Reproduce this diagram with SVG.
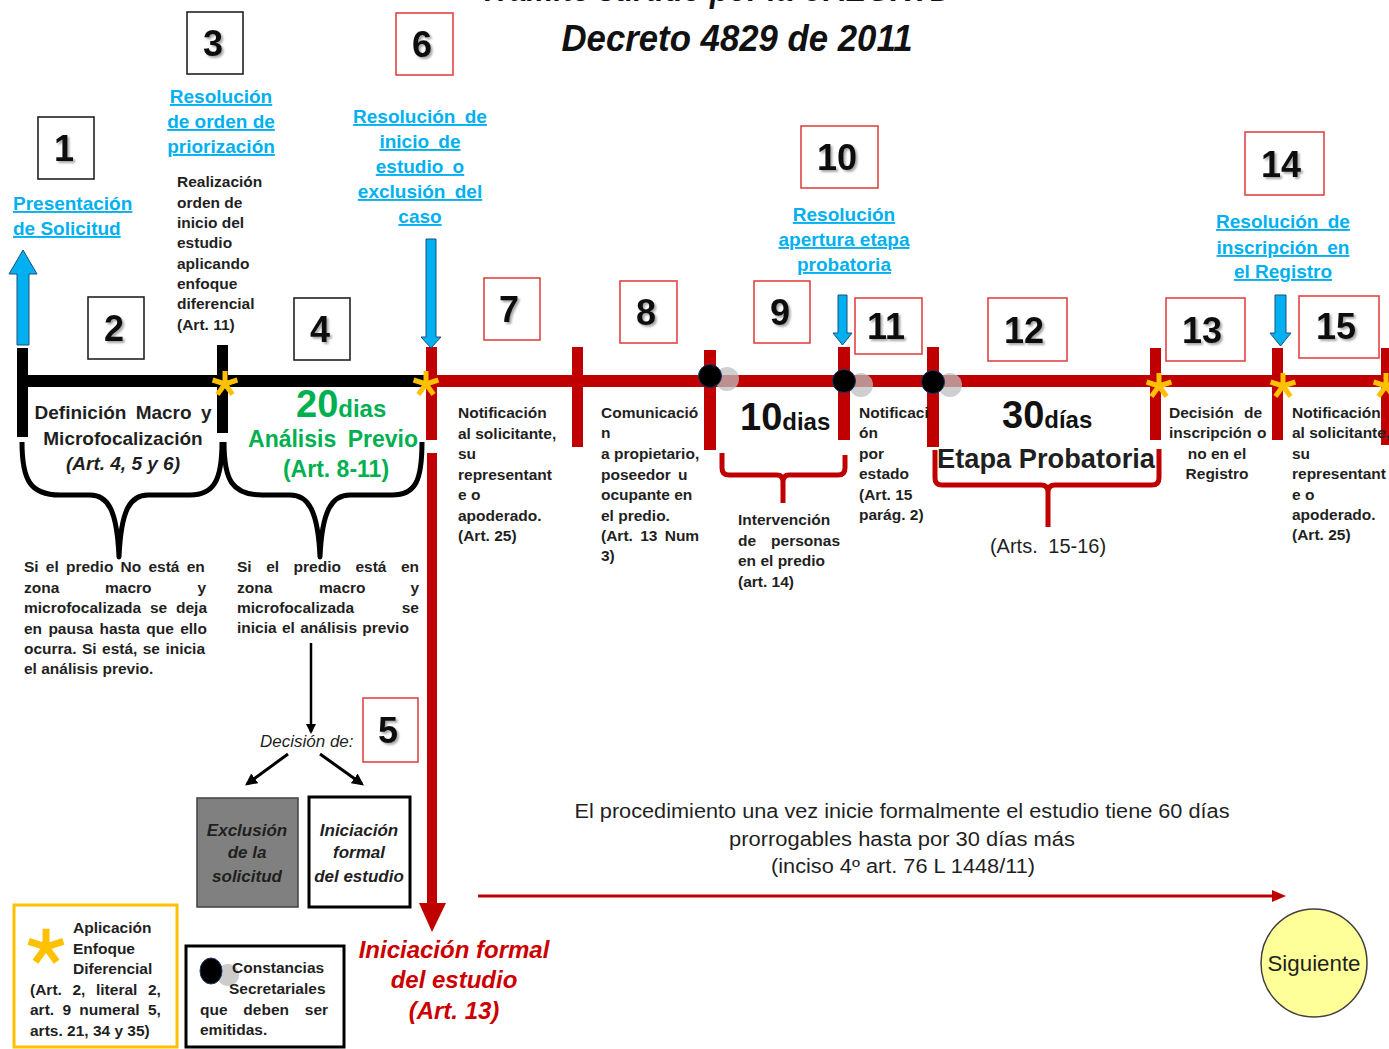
<svg xmlns="http://www.w3.org/2000/svg" xmlns:xlink="http://www.w3.org/1999/xlink" width="1389" height="1049" viewBox="0 0 1389 1049">
<defs>
<style>
text{font-family:"Liberation Sans",Arial,sans-serif;fill:#1f1f1f}
.num{font-size:36px;font-weight:bold;text-anchor:middle;filter:url(#sh);fill:#111}
.bk{fill:#fff;stroke:#222;stroke-width:1.6}
.br{fill:#fff;stroke:#E04545;stroke-width:1.6}
.link{font-size:19px;font-weight:bold;fill:#00B0F0;text-decoration:underline;text-anchor:middle}
.sm{font-size:15.5px;font-weight:bold}
.mid{text-anchor:middle}
.end{text-anchor:end}
.title{font-size:36px;font-weight:bold;font-style:italic;fill:#111}
.green{fill:#00B050;font-weight:bold}
.days{font-weight:bold;fill:#111}
.blue{fill:#00B0F0;stroke:#1F4E79;stroke-width:1}
.red{fill:#C00000}
.blk{fill:#000}
.brace{fill:none;stroke:#000;stroke-width:5;stroke-linejoin:round}
.rbrace{fill:none;stroke:#C00000;stroke-width:5;stroke-linejoin:round}
.bi{font-weight:bold;font-style:italic;font-size:17px;text-anchor:middle}
.leg{font-size:15.5px;font-weight:bold}
.note{font-size:19.5px}
.rt{font-size:24px;font-weight:bold;font-style:italic;text-anchor:middle;fill:#CC0000}
</style>
<filter id="sh" x="-20%" y="-20%" width="150%" height="150%"><feDropShadow dx="2" dy="2" stdDeviation="1.2" flood-color="#000" flood-opacity="0.35"/></filter>
<g id="ast"><path d="M0,0 L0,-13 M0,0 L12.4,-4 M0,0 L7.6,10.5 M0,0 L-7.6,10.5 M0,0 L-12.4,-4" stroke="#FFC000" stroke-width="5" fill="none"/></g>
<marker id="ak" viewBox="0 0 10 10" refX="8" refY="5" markerWidth="4" markerHeight="4" orient="auto"><path d="M0,0 L10,5 L0,10 z" fill="#000"/></marker>
</defs>
<rect width="1389" height="1049" fill="#fff"/>

<g id="title">
<text class="title mid" x="716" y="1" textLength="473" lengthAdjust="spacingAndGlyphs">Trámite surtido por la UAEGRTD</text>
<text class="title mid" x="737" y="51" textLength="351" lengthAdjust="spacingAndGlyphs">Decreto 4829 de 2011</text>
</g>

<g id="timeline">
<rect x="17" y="375" width="413" height="12" class="blk"/>
<rect x="17" y="348" width="11" height="89" class="blk"/>
<rect x="217" y="345" width="11" height="88" class="blk"/>
<rect x="430" y="375" width="959" height="12" class="red"/>
<rect x="426" y="347" width="11" height="93" class="red"/>
<rect x="572" y="347" width="11" height="100" class="red"/>
<rect x="704" y="350" width="12" height="100" class="red"/>
<rect x="838" y="347" width="12" height="93" class="red"/>
<rect x="927" y="347" width="12" height="100" class="red"/>
<rect x="1150" y="348" width="11" height="92" class="red"/>
<rect x="1272" y="348" width="11" height="92" class="red"/>
<rect x="1381" y="348" width="11" height="97" class="red"/>
<circle cx="727" cy="379" r="12" fill="#bfbfbf" opacity="0.75"/>
<circle cx="861" cy="385" r="12" fill="#bfbfbf" opacity="0.75"/>
<circle cx="950" cy="385" r="12" fill="#bfbfbf" opacity="0.75"/>
<circle cx="710" cy="376" r="11.5" fill="#000" stroke="#1F3864" stroke-width="1"/>
<circle cx="844" cy="381" r="11.5" fill="#000" stroke="#1F3864" stroke-width="1"/>
<circle cx="933" cy="382" r="11.5" fill="#000" stroke="#1F3864" stroke-width="1"/>
<use xlink:href="#ast" href="#ast" x="225" y="384"/>
<use xlink:href="#ast" href="#ast" x="426" y="384"/>
<use xlink:href="#ast" href="#ast" x="1159" y="386"/>
<use xlink:href="#ast" href="#ast" x="1283" y="386"/>
<use xlink:href="#ast" href="#ast" x="1386" y="386"/>
</g>

<g id="connectors">
<polygon class="blue" points="17,345 29,345 29,274 37,274 23,250 9,274 17,274"/>
<polygon class="blue" points="426,239 436,239 436,337 441,337 431,348 421,337 426,337"/>
<polygon class="blue" points="838,295 847,295 847,333 852,333 842.5,345 833,333 838,333"/>
<polygon class="blue" points="1275,295 1286,295 1286,333 1291,333 1280.5,346 1270,333 1275,333"/>
<rect x="427" y="453" width="10" height="452" class="red"/>
<polygon class="red" points="419,903 446,903 432,932"/>
<line x1="311" y1="643" x2="311" y2="732" stroke="#000" stroke-width="2.5" marker-end="url(#ak)"/>
<line x1="288" y1="754" x2="247" y2="784" stroke="#000" stroke-width="3" marker-end="url(#ak)"/>
<line x1="320" y1="754" x2="362" y2="784" stroke="#000" stroke-width="3" marker-end="url(#ak)"/>
<line x1="478" y1="896" x2="1274" y2="896" stroke="#C00000" stroke-width="3"/>
<polygon class="red" points="1272,890 1286,896 1272,902"/>
<path class="brace" d="M22,442 C22,480 30,495 60,495 L90,495 C108,495 117,510 119,557 C121,510 130,495 148,495 L190,495 C214,495 222,480 222,442"/>
<path class="brace" d="M224,442 C224,480 232,495 262,495 L290,495 C308,495 318,510 320,557 C322,510 332,495 350,495 L392,495 C416,495 422,480 422,442"/>
<path class="rbrace" d="M722,453 L722,468 Q722,475 729,475 L777,475 Q783,475 783,482 L783,503 M783,482 Q783,475 789,475 L838,475 Q845,475 845,468 L845,455"/>
<path class="rbrace" d="M935,450 L935,478 Q935,485 942,485 L1041,485 Q1048,485 1048,492 L1048,527 M1048,492 Q1048,485 1055,485 L1152,485 Q1159,485 1159,478 L1159,449"/>
</g>

<g id="n1"><rect class="bk" x="38" y="117" width="56" height="62"/><text class="num" x="64" y="161">1</text></g>
<g id="n2"><rect class="bk" x="88" y="297" width="56" height="62"/><text class="num" x="114" y="341">2</text></g>
<g id="n3"><rect class="bk" x="187" y="12" width="56" height="62"/><text class="num" x="213" y="56">3</text></g>
<g id="n4"><rect class="bk" x="294" y="298" width="56" height="62"/><text class="num" x="320" y="342">4</text></g>
<g id="n5"><rect class="br" x="363" y="698" width="55" height="64"/><text class="num" x="388" y="743">5</text></g>
<g id="n6"><rect class="br" x="396" y="13" width="57" height="62"/><text class="num" x="422" y="57">6</text></g>
<g id="n7"><rect class="br" x="484" y="278" width="56" height="62"/><text class="num" x="509" y="322">7</text></g>
<g id="n8"><rect class="br" x="620" y="281" width="57" height="62"/><text class="num" x="646" y="325">8</text></g>
<g id="n9"><rect class="br" x="754" y="281" width="56" height="62"/><text class="num" x="780" y="325">9</text></g>
<g id="n10"><rect class="br" x="801" y="126" width="77" height="62"/><text class="num" x="837" y="170">10</text></g>
<g id="n11"><rect class="br" x="855" y="298" width="67" height="56"/><text class="num" x="886" y="339">11</text></g>
<g id="n12"><rect class="br" x="988" y="298" width="79" height="63"/><text class="num" x="1024" y="343">12</text></g>
<g id="n13"><rect class="br" x="1166" y="298" width="79" height="63"/><text class="num" x="1202" y="343">13</text></g>
<g id="n14"><rect class="br" x="1245" y="132" width="79" height="63"/><text class="num" x="1281" y="177">14</text></g>
<g id="n15"><rect class="br" x="1299" y="296" width="80" height="62"/><text class="num" x="1336" y="339">15</text></g>

<g id="l1"><text class="link" style="text-anchor:start" x="13" y="210">Presentación</text><text class="link" style="text-anchor:start" x="13" y="235">de Solicitud</text></g>
<g id="l3"><text class="link" x="221" y="103">Resolución</text><text class="link" x="221" y="128">de orden de</text><text class="link" x="221" y="153">priorización</text></g>
<g id="l6"><text class="link" x="420" y="123" word-spacing="4">Resolución de</text><text class="link" x="420" y="148" word-spacing="4">inicio de</text><text class="link" x="420" y="173" word-spacing="4">estudio o</text><text class="link" x="420" y="198" word-spacing="4">exclusión del</text><text class="link" x="420" y="223">caso</text></g>
<g id="l10"><text class="link" x="844" y="221">Resolución</text><text class="link" x="844" y="246">apertura etapa</text><text class="link" x="844" y="271">probatoria</text></g>
<g id="l14"><text class="link" x="1283" y="228" word-spacing="4">Resolución de</text><text class="link" x="1283" y="254" word-spacing="4">inscripción en</text><text class="link" x="1283" y="278">el Registro</text></g>

<g id="d3">
<text class="sm" x="177" y="187">Realización</text>
<text class="sm" x="177" y="208">orden de</text>
<text class="sm" x="177" y="228">inicio del</text>
<text class="sm" x="177" y="248">estudio</text>
<text class="sm" x="177" y="269">aplicando</text>
<text class="sm" x="177" y="289">enfoque</text>
<text class="sm" x="177" y="309">diferencial</text>
<text class="sm" x="177" y="330">(Art. 11)</text>
</g>
<g id="d2">
<text class="mid" x="123" y="419" font-size="19" font-weight="bold" word-spacing="4">Definición Macro y</text>
<text class="mid" x="123" y="445" font-size="19" font-weight="bold">Microfocalización</text>
<text class="mid" x="123" y="470" font-size="19" font-weight="bold" font-style="italic">(Art. 4, 5 y 6)</text>
</g>
<g id="d4">
<text class="green" x="296" y="417"><tspan font-size="38">20</tspan><tspan font-size="24">dias</tspan></text>
<text class="green mid" x="333" y="447" font-size="23" word-spacing="5">Análisis Previo</text>
<text class="green mid" x="336" y="477" font-size="23">(Art. 8-11)</text>
</g>
<g id="p1">
<text class="sm" x="24" y="572" word-spacing="2.9">Si el predio No está en</text>
<text class="sm" x="24" y="593">zona</text><text class="sm" x="105" y="593">macro</text><text class="sm end" x="206" y="593">y</text>
<text class="sm" x="24" y="613" word-spacing="4.5">microfocalizada se deja</text>
<text class="sm" x="24" y="634" word-spacing="2">en pausa hasta que ello</text>
<text class="sm" x="24" y="654" word-spacing="1.1">ocurra. Si está, se inicia</text>
<text class="sm" x="24" y="674">el análisis previo.</text>
</g>
<g id="p2">
<text class="sm" x="237" y="572" word-spacing="10.2">Si el predio está en</text>
<text class="sm" x="237" y="593">zona</text><text class="sm" x="319" y="593">macro</text><text class="sm end" x="419" y="593">y</text>
<text class="sm" x="237" y="613">microfocalizada</text><text class="sm end" x="419" y="613">se</text>
<text class="sm" x="237" y="633" word-spacing="1">inicia el análisis previo</text>
</g>
<g id="d7">
<text class="sm" x="458" y="418">Notificación</text>
<text class="sm" x="458" y="439">al solicitante,</text>
<text class="sm" x="458" y="459">su</text>
<text class="sm" x="458" y="480">representant</text>
<text class="sm" x="458" y="500">e o</text>
<text class="sm" x="458" y="521">apoderado.</text>
<text class="sm" x="458" y="541">(Art. 25)</text>
</g>
<g id="d8">
<text class="sm" x="601" y="418">Comunicació</text>
<text class="sm" x="601" y="438">n</text>
<text class="sm" x="601" y="459">a propietario,</text>
<text class="sm" x="601" y="480" word-spacing="3">poseedor u</text>
<text class="sm" x="601" y="500">ocupante en</text>
<text class="sm" x="601" y="521">el predio.</text>
<text class="sm" x="601" y="541" word-spacing="3">(Art. 13 Num</text>
<text class="sm" x="601" y="561">3)</text>
</g>
<g id="d9">
<text class="days" x="740" y="430"><tspan font-size="38">10</tspan><tspan font-size="24">dias</tspan></text>
<text class="sm" x="738" y="525">Intervención</text>
<text class="sm" x="738" y="546">de</text><text class="sm end" x="840" y="546">personas</text>
<text class="sm" x="738" y="566">en el predio</text>
<text class="sm" x="738" y="587">(art. 14)</text>
</g>
<g id="d11">
<text class="sm" x="859" y="418">Notificaci</text>
<text class="sm" x="859" y="438">ón</text>
<text class="sm" x="859" y="459">por</text>
<text class="sm" x="859" y="479">estado</text>
<text class="sm" x="859" y="500">(Art. 15</text>
<text class="sm" x="859" y="520">parág. 2)</text>
</g>
<g id="d12">
<text class="days" x="1002" y="428"><tspan font-size="38">30</tspan><tspan font-size="24">días</tspan></text>
<text x="937" y="468" font-size="28" font-weight="bold" fill="#111" textLength="218" lengthAdjust="spacingAndGlyphs">Etapa Probatoria</text>
<text class="mid" x="1048" y="553" font-size="20" word-spacing="5">(Arts. 15-16)</text>
</g>
<g id="d13">
<text class="sm" x="1169" y="418" word-spacing="6">Decisión de</text>
<text class="sm" x="1169" y="438" word-spacing="1">inscripción o</text>
<text class="sm mid" x="1217" y="459">no en el</text>
<text class="sm mid" x="1217" y="479">Registro</text>
</g>
<g id="d15">
<text class="sm" x="1292" y="418">Notificación</text>
<text class="sm" x="1292" y="438">al solicitante,</text>
<text class="sm" x="1292" y="459">su</text>
<text class="sm" x="1292" y="479">representant</text>
<text class="sm" x="1292" y="500">e o</text>
<text class="sm" x="1292" y="520">apoderado.</text>
<text class="sm" x="1292" y="540">(Art. 25)</text>
</g>

<g id="decision">
<text x="260" y="747" font-size="17" font-style="italic" fill="#404040">Decisión de:</text>
</g>
<g id="exclusion">
<rect x="197" y="798" width="101" height="109" fill="#808080" stroke="#404040" stroke-width="1.5"/>
<text class="bi" x="247" y="836">Exclusión</text>
<text class="bi" x="247" y="858">de la</text>
<text class="bi" x="247" y="882">solicitud</text>
</g>
<g id="iniciacion">
<rect x="309" y="797" width="101" height="110" fill="#fff" stroke="#000" stroke-width="3"/>
<text class="bi" x="359" y="836">Iniciación</text>
<text class="bi" x="359" y="858">formal</text>
<text class="bi" x="359" y="882">del estudio</text>
</g>
<g id="inicio-formal">
<text class="rt" x="454" y="958">Iniciación formal</text>
<text class="rt" x="454" y="988">del estudio</text>
<text class="rt" x="454" y="1019">(Art. 13)</text>
</g>

<g id="legend-asterisk">
<rect x="14" y="905" width="163" height="142" fill="#fff" stroke="#FFC000" stroke-width="3"/>
<use xlink:href="#ast" href="#ast" transform="translate(46,947) scale(1.4)"/>
<text class="leg" x="73" y="933">Aplicación</text>
<text class="leg" x="73" y="954">Enfoque</text>
<text class="leg" x="73" y="974">Diferencial</text>
<text class="leg" x="30" y="995" word-spacing="6.3">(Art. 2, literal 2,</text>
<text class="leg" x="30" y="1015" word-spacing="4">art. 9 numeral 5,</text>
<text class="leg" x="30" y="1036">arts. 21, 34 y 35)</text>
</g>
<g id="legend-dot">
<rect x="186" y="946" width="158" height="101" fill="#fff" stroke="#000" stroke-width="3"/>
<circle cx="228" cy="975" r="11" fill="#bfbfbf" opacity="0.8"/>
<ellipse cx="211" cy="971" rx="11" ry="13" fill="#000" stroke="#1F3864" stroke-width="1"/>
<text class="leg" x="232" y="973">Constancias</text>
<text class="leg" x="229" y="994">Secretariales</text>
<text class="leg" x="200" y="1015" word-spacing="11.5">que deben ser</text>
<text class="leg" x="200" y="1035">emitidas.</text>
</g>

<g id="procedimiento">
<text class="note mid" x="902" y="818" textLength="655" lengthAdjust="spacingAndGlyphs">El procedimiento  una vez inicie formalmente  el estudio tiene 60 días</text>
<text class="note mid" x="902" y="846" textLength="346" lengthAdjust="spacingAndGlyphs">prorrogables  hasta por  30 días más</text>
<text class="note mid" x="903" y="873" textLength="264" lengthAdjust="spacingAndGlyphs">(inciso 4º art. 76 L 1448/11)</text>
</g>

<g id="siguiente">
<ellipse cx="1314" cy="963" rx="53" ry="54" fill="#FFFF99" stroke="#404040" stroke-width="1.5"/>
<text class="mid" x="1314" y="971" font-size="22" textLength="93" lengthAdjust="spacingAndGlyphs">Siguiente</text>
</g>
</svg>
